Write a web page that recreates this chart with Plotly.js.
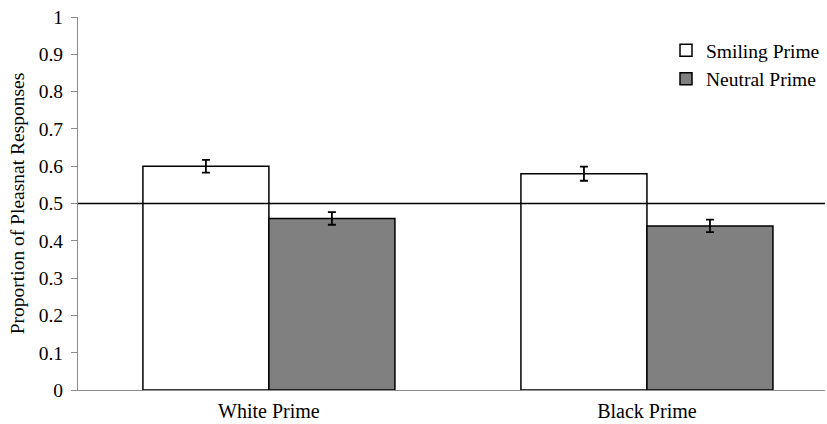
<!DOCTYPE html>
<html>
<head>
<meta charset="utf-8">
<script src="https://cdn.plot.ly/plotly-3.0.1.min.js"></script>
<style>html,body{margin:0;padding:0;background:#fff;}#chart{width:827px;height:424px;}</style>
</head>
<body>
<div id="chart"></div>
<script>
const categories = ["White Prime", "Black Prime"];
const seriesNames = ["Smiling Prime", "Neutral Prime"];
const smilingValues = [0.60, 0.58];
const smilingErrors = [0.017, 0.019];
const neutralValues = [0.46, 0.44];
const neutralErrors = [0.017, 0.017];
const yTickValues = [0, 0.1, 0.2, 0.3, 0.4, 0.5, 0.6, 0.7, 0.8, 0.9, 1];
const referenceLevel = 0.5;

const fontFamily = 'Liberation Serif, Times New Roman, serif';
const axisGray = '#8c8c8c';

const traces = [
  {
    type: 'bar', name: seriesNames[0], x: categories, y: smilingValues,
    marker: {color: '#ffffff', line: {color: '#000000', width: 1.5}},
    error_y: {type: 'data', array: smilingErrors, visible: true, color: '#000000', thickness: 1.8, width: 4}
  },
  {
    type: 'bar', name: seriesNames[1], x: categories, y: neutralValues,
    marker: {color: '#808080', line: {color: '#000000', width: 1.5}},
    error_y: {type: 'data', array: neutralErrors, visible: true, color: '#000000', thickness: 1.8, width: 4}
  }
];

const layout = {
  width: 827, height: 424,
  margin: {l: 78, r: 2, t: 17, b: 34, pad: 0},
  paper_bgcolor: '#ffffff', plot_bgcolor: '#ffffff',
  font: {family: fontFamily, size: 19, color: '#000000'},
  barmode: 'group', bargap: 1/3, bargroupgap: 0,
  showlegend: true,
  legend: {x: 1, xanchor: 'right', y: 0.962, yanchor: 'top', bgcolor: 'rgba(0,0,0,0)',
           font: {family: fontFamily, size: 19.5, color: '#000000'}, tracegroupgap: 0, itemwidth: 30},
  xaxis: {
    type: 'category', range: [-0.505, 1.471], showline: true, linecolor: axisGray, linewidth: 1,
    ticks: '', showgrid: false, zeroline: false, fixedrange: true, ticklabelstandoff: 3,
    tickfont: {family: fontFamily, size: 20, color: '#000000'}
  },
  yaxis: {
    range: [0, 1], tickvals: yTickValues, ticktext: yTickValues.map(v => String(v)),
    showline: true, linecolor: axisGray, linewidth: 1, ticks: 'outside', ticklen: 6, tickcolor: axisGray,
    showgrid: false, zeroline: false, fixedrange: true, ticklabelstandoff: 4,
    tickfont: {family: fontFamily, size: 19.5, color: '#000000'},
    title: {text: 'Proportion of Pleasnat Responses', standoff: 8, font: {family: fontFamily, size: 19.5, color: '#000000'}}
  },
  shapes: [
    {type: 'line', xref: 'paper', yref: 'y', x0: 0, x1: 1, y0: referenceLevel, y1: referenceLevel,
     line: {color: '#000000', width: 1.5}, layer: 'above'}
  ]
};

Plotly.newPlot('chart', traces, layout, {displayModeBar: false, staticPlot: true});
</script>
</body>
</html>
